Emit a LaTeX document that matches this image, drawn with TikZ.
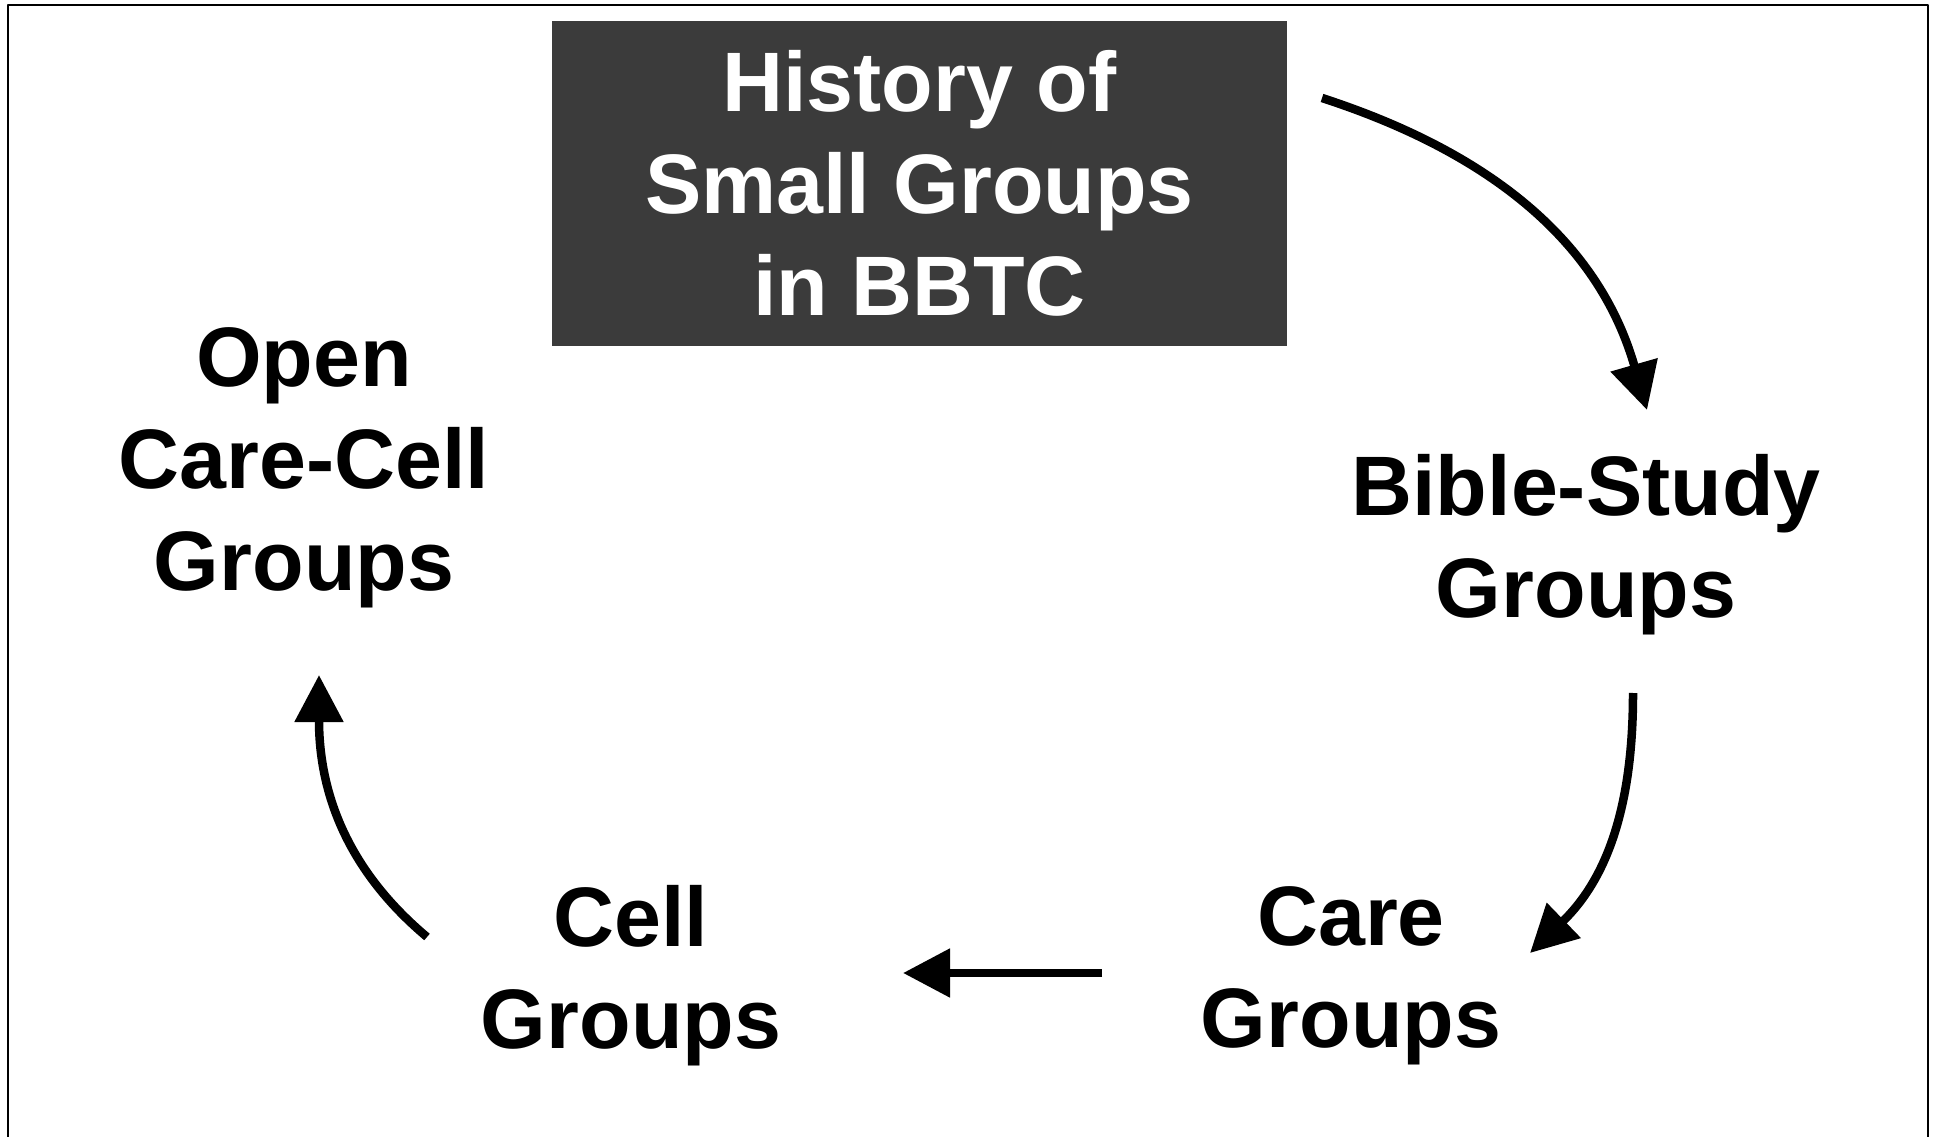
\documentclass[tikz,border=0pt]{standalone}
\usepackage{fontspec}
\setmainfont{Liberation Sans}
\usetikzlibrary{arrows.meta}
\definecolor{boxgray}{RGB}{59,59,59}
\begin{document}
\begin{tikzpicture}[x=0.01cm, y=0.01cm, line join=round,
    >={Triangle[length=0.47cm,width=0.47cm]},
    stage/.style={align=center, inner sep=0pt, font=\fontsize{24}{29}\selectfont\bfseries},
    flow/.style={->, line width=0.085cm}]
    \useasboundingbox (0,0) rectangle (1937,1136);
    % frame, open at the bottom
    \draw[line width=0.4pt] (8,-10) |- (1928,1131) -- (1928,-10);
    \node[stage, fill=boxgray, text=white, minimum width=7.35cm, minimum height=3.25cm] (title) at (919.5,952.5) {History of\\Small Groups\\in BBTC};
    \node[stage] (bible) at (1586,591.5) {Bible-Study\\Groups};
    \node[stage] (care) at (1351,160) {Care\\Groups};
    \node[stage] (cell) at (631,160) {Cell\\Groups};
    \node[stage] (open) at (304,668) {Open\\Care-Cell\\Groups};
    % the cycle
    \draw[flow] ([shift={(402.5,85.5)}]title.center) to[out=-18,in=106] ([shift={(61,134.5)}]bible.center);
    \draw[flow] ([shift={(47,-148.5)}]bible.center) to[out=-90,in=44] ([shift={(179,23)}]care.center);
    \draw[flow] ([shift={(-249,3)}]care.center) -- ([shift={(272,3)}]cell.center);
    \draw[flow] ([shift={(-204,39)}]cell.center) to[out=140,in=-90] ([shift={(15,-207)}]open.center);
\end{tikzpicture}
\end{document}
